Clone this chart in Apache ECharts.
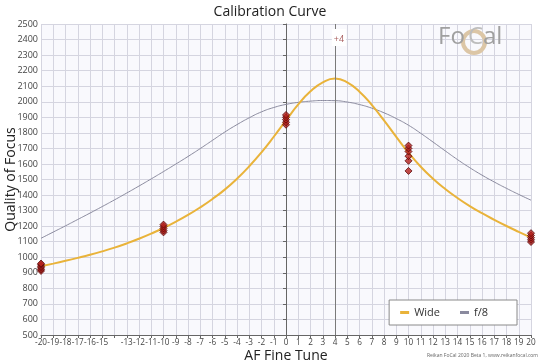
<!DOCTYPE html>
<html>
<head>
<meta charset="utf-8">
<script src="https://cdn.jsdelivr.net/npm/echarts@6/dist/echarts.min.js"></script>
<style>html,body{margin:0;padding:0;background:#fff;}#c{width:540px;height:360px;}</style>
</head>
<body>
<div id="c"></div>
<script>
const xValues = [-20,-19,-18,-17,-16,-15,-14,-13,-12,-11,-10,-9,-8,-7,-6,-5,-4,-3,-2,-1,0,1,2,3,4,5,6,7,8,9,10,11,12,13,14,15,16,17,18,19,20];
const wideValues = [942,959,977,996,1016,1038,1062,1089,1119,1152,1188,1228,1272,1321,1375,1435,1505,1585,1675,1775,1880,1983,2067,2125,2150,2125,2065,1980,1880,1774,1672,1582,1505,1439,1381,1329,1283,1241,1201,1163,1126];
const f8Values = [1122,1162,1202,1243,1284,1326,1369,1413,1458,1504,1551,1599,1648,1699,1752,1805,1853,1897,1935,1963,1983,1996,2004,2008,2007,1998,1982,1959,1929,1892,1849,1797,1741,1684,1628,1576,1528,1484,1443,1404,1367];
const shotPositions = [-20,-20,-20,-20,-20,-20,-10,-10,-10,-10,-10,0,0,0,0,0,10,10,10,10,10,10,20,20,20,20,20];
const shotValues = [912,922,932,942,952,960,1160,1172,1185,1198,1210,1852,1868,1885,1900,1915,1555,1620,1650,1680,1700,1718,1098,1112,1126,1140,1155];
const hiddenTickLabels = [-14];
const chosenTune = 4;

const font = 'Open Sans';
const chart = echarts.init(document.getElementById('c'), null, {renderer:'canvas'});
chart.setOption({
  animation: false,
  backgroundColor: '#ffffff',
  textStyle: {fontFamily: font},
  title: {
    text: 'Calibration Curve', left: 'center', top: 0,
    textStyle: {fontFamily: font, fontSize: 14, fontWeight: 'normal', color: '#222'}
  },
  grid: {left: 41, right: 9, top: 24, bottom: 25, show: true, backgroundColor: '#f9f9fd', borderWidth: 0,
         containLabel: false, outerBoundsMode: 'none'},
  legend: {
    right: 23, bottom: 35, orient: 'horizontal',
    backgroundColor: '#ffffff', borderColor: '#8a8a8a', borderWidth: 1, borderRadius: 0,
    padding: [7, 29, 7, 11], itemGap: 20, itemWidth: 9, itemHeight: 3,
    textStyle: {fontFamily: font, fontSize: 11, color: '#333'},
    data: [
      {name: 'Wide', icon: 'rect', itemStyle: {color: '#e9b33a'}},
      {name: 'f/8', icon: 'rect', itemStyle: {color: '#8a8a9e'}}
    ]
  },
  xAxis: {
    type: 'value', min: -20, max: 20, interval: 1,
    name: 'AF Fine Tune', nameLocation: 'middle', nameGap: 14, nameMoveOverlap: false,
    nameTextStyle: {fontFamily: font, fontSize: 14, color: '#222'},
    axisLine: {show: true, lineStyle: {color: '#666', width: 1}},
    axisTick: {show: true, length: 3, lineStyle: {color: '#666'}},
    axisLabel: {
      fontFamily: font, fontSize: 8.2, color: '#444', margin: 4, hideOverlap: false,
      showMinLabel: true, showMaxLabel: true,
      formatter: v => hiddenTickLabels.indexOf(v) >= 0 ? '' : String(v)
    },
    splitLine: {show: true, lineStyle: {color: '#d5d5e0', width: 1}}
  },
  yAxis: {
    type: 'value', min: 500, max: 2500, interval: 100,
    name: 'Quality of Focus', nameLocation: 'middle', nameGap: 23, nameMoveOverlap: false,
    nameTextStyle: {fontFamily: font, fontSize: 14, color: '#222'},
    axisLine: {show: true, lineStyle: {color: '#666', width: 1}},
    axisTick: {show: true, length: 3, lineStyle: {color: '#666'}},
    axisLabel: {fontFamily: font, fontSize: 9, color: '#444', margin: 3, hideOverlap: false,
      showMinLabel: true, showMaxLabel: true, formatter: v => String(v)},
    splitLine: {show: true, lineStyle: {color: '#d5d5e0', width: 1}}
  },
  series: [
    {
      name: 'f/8', type: 'line', smooth: true, showSymbol: false, symbol: 'none',
      data: xValues.map((x, i) => [x, f8Values[i]]),
      lineStyle: {color: '#8a8a9e', width: 1}, itemStyle: {color: '#8a8a9e'}, z: 3
    },
    {
      name: 'Wide', type: 'line', smooth: true, showSymbol: false, symbol: 'none',
      data: xValues.map((x, i) => [x, wideValues[i]]),
      lineStyle: {color: '#e9b33a', width: 2}, itemStyle: {color: '#e9b33a'}, z: 4,
      markLine: {
        silent: true, symbol: 'none',
        lineStyle: {color: '#7a7a7a', width: 1, type: 'solid'},
        label: {
          show: true, position: 'end', formatter: '+' + chosenTune,
          color: '#a85c5c', fontSize: 9, fontFamily: font,
          backgroundColor: '#ffffff', padding: [6, 2, 2, 2], offset: [4, 27]
        },
        data: [{xAxis: chosenTune}]
      }
    },
    {
      name: 'shots', type: 'scatter', symbol: 'diamond', symbolSize: 7, clip: false,
      data: shotPositions.map((x, i) => [x, shotValues[i]]),
      itemStyle: {color: '#b5201c', borderColor: '#5a0a0a', borderWidth: 1}, z: 6
    }
  ],
  graphic: [
    {type: 'ring', shape: {cx: 474, cy: 42, r: 13, r0: 9}, style: {fill: '#dcc6a6'}, z: 10},
    {type: 'text', left: 438, top: 25, style: {text: 'Fo', font: '24px "Open Sans"', fill: '#a0a0a0'}, z: 11},
    {type: 'text', left: 468, top: 25, style: {text: 'C', font: '24px "Open Sans"', fill: '#bdbdbd'}, z: 11},
    {type: 'text', left: 483, top: 25, style: {text: 'al', font: '24px "Open Sans"', fill: '#a0a0a0'}, z: 11},
    {type: 'text', right: 2, bottom: 2, style: {text: 'Reikan FoCal 2020 Beta 1, www.reikanfocal.com', font: '5px "Open Sans"', fill: '#666'}, z: 10}
  ]
});
</script>
</body>
</html>
